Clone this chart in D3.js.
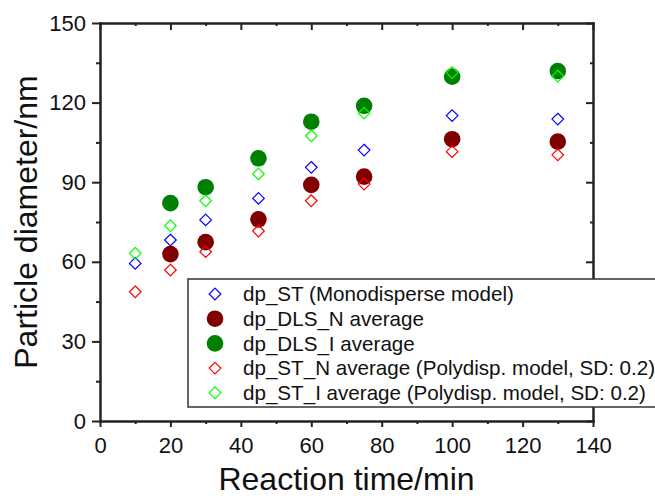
<!DOCTYPE html>
<html>
<head>
<meta charset="utf-8">
<script src="https://cdn.jsdelivr.net/npm/d3@7"></script>
<style>
  body { margin: 0; background: #fff; }
  svg { display: block; font-family: "Liberation Sans", Arial, sans-serif; }
  .axis path, .axis line { stroke: #222; stroke-width: 2; }
  .axis text { font-size: 22px; fill: #111; font-family: "Liberation Sans", Arial, sans-serif; }
</style>
</head>
<body>
<svg></svg>
<script>
// reaction time (min)
var times = [10, 20, 30, 45, 60, 75, 100, 130];

// particle diameters (nm)
var dpST      = [59.4, 68.2, 75.8, 83.9, 95.6, 102.1, 115.1, 113.8];
var dpDLS_N   = [null, 62.9, 67.4, 76.0, 89.0, 92.1, 106.2, 105.3];
var dpDLS_I   = [null, 82.1, 88.1, 99.0, 112.8, 118.8, 129.8, 131.9];
var dpST_N    = [48.7, 56.9, 63.8, 71.6, 83.0, 89.3, 101.5, 100.3];
var dpST_I    = [63.2, 73.6, 83.0, 93.1, 107.5, 116.0, 131.3, 130.0];

var seriesNames = [
  'dp_ST (Monodisperse model)',
  'dp_DLS_N average',
  'dp_DLS_I average',
  'dp_ST_N average (Polydisp. model, SD: 0.2)',
  'dp_ST_I average (Polydisp. model, SD: 0.2)'
];
var seriesColors = ['#0000ff', '#800000', '#008000', '#ff0000', '#00ff00'];
var seriesShapes = ['diamond', 'circle', 'circle', 'diamond', 'diamond'];
var seriesValues = [dpST, dpDLS_N, dpDLS_I, dpST_N, dpST_I];

var xMajor = [0, 20, 40, 60, 80, 100, 120, 140];
var xMinor = [10, 30, 50, 70, 90, 110, 130];
var yMajor = [0, 30, 60, 90, 120, 150];
var yMinor = [15, 45, 75, 105, 135];

var width = 655, height = 500;
var pLeft = 100, pRight = 593, pTop = 23, pBottom = 421;

var svg = d3.select('svg').attr('width', width).attr('height', height);

var x = d3.scaleLinear().domain([0, 140]).range([pLeft, pRight]);
var y = d3.scaleLinear().domain([0, 150]).range([pBottom, pTop]);

// bottom axis
svg.append('g').attr('class', 'axis')
  .attr('transform', 'translate(0,' + pBottom + ')')
  .call(d3.axisBottom(x).tickValues(xMajor).tickSize(6).tickSizeOuter(0).tickPadding(10))
svg.append('g').attr('class', 'axis')
  .attr('transform', 'translate(0,' + pBottom + ')')
  .call(d3.axisBottom(x).tickValues(xMinor).tickSize(3).tickSizeOuter(0).tickFormat(''))

// left axis
svg.append('g').attr('class', 'axis')
  .attr('transform', 'translate(' + pLeft + ',0)')
  .call(d3.axisLeft(y).tickValues(yMajor).tickSize(8).tickSizeOuter(0).tickPadding(6))
svg.append('g').attr('class', 'axis')
  .attr('transform', 'translate(' + pLeft + ',0)')
  .call(d3.axisLeft(y).tickValues(yMinor).tickSize(4).tickSizeOuter(0).tickFormat(''))

// top axis, ticks inward
svg.append('g').attr('class', 'axis')
  .attr('transform', 'translate(0,' + pTop + ')')
  .call(d3.axisTop(x).tickValues(xMajor).tickSize(-7).tickSizeOuter(0).tickFormat(''))
svg.append('g').attr('class', 'axis')
  .attr('transform', 'translate(0,' + pTop + ')')
  .call(d3.axisTop(x).tickValues(xMinor).tickSize(-3).tickSizeOuter(0).tickFormat(''))

// right axis, ticks inward
svg.append('g').attr('class', 'axis')
  .attr('transform', 'translate(' + pRight + ',0)')
  .call(d3.axisRight(y).tickValues(yMajor).tickSize(-7).tickSizeOuter(0).tickFormat(''))
svg.append('g').attr('class', 'axis')
  .attr('transform', 'translate(' + pRight + ',0)')
  .call(d3.axisRight(y).tickValues(yMinor).tickSize(-3).tickSizeOuter(0).tickFormat(''))

svg.selectAll('.axis .domain').attr('stroke-linecap', 'square')

// axis titles
svg.append('text')
  .attr('x', (pLeft + pRight) / 2).attr('y', 490)
  .attr('text-anchor', 'middle')
  .attr('font-size', 32).attr('fill', '#111')
  .text('Reaction time/min')

svg.append('text')
  .attr('transform', 'translate(37,' + (pTop + pBottom) / 2 + ') rotate(-90)')
  .attr('text-anchor', 'middle')
  .attr('font-size', 32).attr('fill', '#111')
  .text('Particle diameter/nm')

var diamond = function(cx, cy, r) {
  return 'M' + cx + ',' + (cy - r) + 'L' + (cx + r) + ',' + cy + 'L' + cx + ',' + (cy + r) + 'L' + (cx - r) + ',' + cy + 'Z';
}

function drawMarker(g, shape, color, cx, cy) {
  if (shape === 'circle') {
    g.append('circle').attr('cx', cx).attr('cy', cy).attr('r', 8.3).attr('fill', color)
  } else {
    g.append('path').attr('d', diamond(cx, cy, 5.8))
      .attr('fill', 'none').attr('stroke', color).attr('stroke-width', 1.2)
  }
}

// points
var marks = svg.append('g');
seriesValues.forEach(function(vals, s) {
  times.forEach(function(t, i) {
    if (vals[i] == null) return;
    drawMarker(marks, seriesShapes[s], seriesColors[s], x(t), y(vals[i]))
  })
})

// legend
var lg = svg.append('g');
lg.append('rect')
  .attr('x', 188).attr('y', 279).attr('width', 480).attr('height', 128)
  .attr('fill', '#fff').attr('stroke', '#333').attr('stroke-width', 1.5)

seriesNames.forEach(function(name, s) {
  var cy = 294 + s * 24.7;
  drawMarker(lg, seriesShapes[s], seriesColors[s], 215, cy)
  lg.append('text')
    .attr('x', 243).attr('y', cy)
    .attr('dy', '0.35em')
    .attr('font-size', 20.6).attr('fill', '#111')
    .text(name)
})
</script>
</body>
</html>
